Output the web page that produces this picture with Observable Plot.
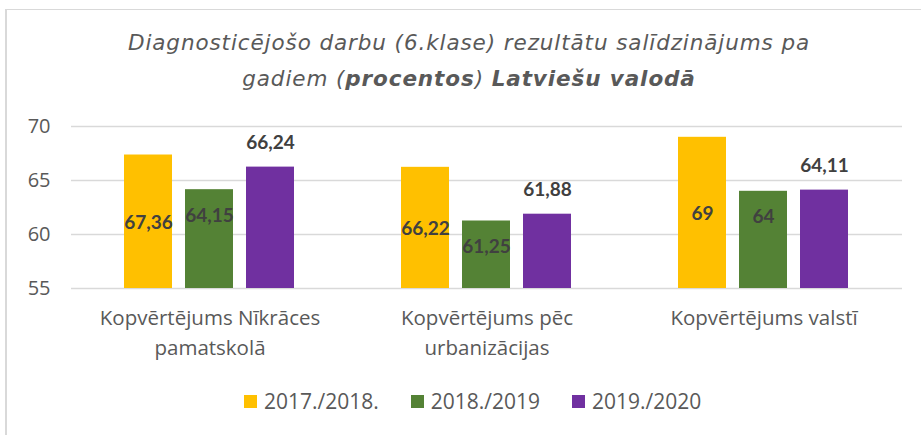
<!DOCTYPE html>
<html>
<head>
<meta charset="utf-8">
<script src="https://cdn.jsdelivr.net/npm/d3@7"></script>
<script src="https://cdn.jsdelivr.net/npm/@observablehq/plot@0.6"></script>
<style>
  html, body { margin: 0; padding: 0; background: #fff; }
  #wrap { position: relative; width: 921px; height: 435px; overflow: hidden; background: #fff; }
  #frame { position: absolute; left: 5px; top: 9px; width: 940px; height: 460px;
           border-left: 2px solid #d9d9d9; border-top: 1.5px solid #d9d9d9; box-sizing: border-box; }
  #title { position: absolute; left: 0; width: 938px; top: 25px; text-align: center;
           font-family: "DejaVu Sans", sans-serif; font-style: italic; font-size: 21.5px;
           line-height: 36px; color: #595959; letter-spacing: 0.9px; }
  #title b { font-weight: bold; }
  #chart { position: absolute; left: 0; top: 100px; }
  #legend { position: absolute; top: 387px; left: 244px; display: flex; align-items: center;
            font-family: "Open Sans", sans-serif; font-size: 21px; color: #595959; white-space: nowrap; }
  .item { display: flex; align-items: center; margin-right: 32px; }
  .sw { width: 13px; height: 13px; margin-right: 7px; }
</style>
</head>
<body>
<div id="wrap">
  <div id="frame"></div>
  <div id="title">Diagnosticējošo darbu (6.klase) rezultātu salīdzinājums pa<br>gadiem (<b>procentos</b>) <b>Latviešu valodā</b></div>
  <div id="chart"></div>
  <div id="legend"></div>
</div>
<script>
// ---- data ----
const categories = ["Kopvērtējums Nīkrāces\npamatskolā", "Kopvērtējums pēc\nurbanizācijas", "Kopvērtējums valstī"];
const years = ["2017./2018.", "2018./2019", "2019./2020"];
const values2017 = [67.36, 66.22, 69];
const values2018 = [64.15, 61.25, 64];
const values2019 = [66.24, 61.88, 64.11];
const yTicks = [55, 60, 65, 70];
const colors = ["#FFC000", "#548235", "#7030A0"];

const series = [values2017, values2018, values2019];
const rows = [];
categories.forEach((c, i) => years.forEach((y, j) => rows.push({cat: c, year: y, value: series[j][i]})));
const base = yTicks[0];
const fmt = v => String(v).replace(".", ",");

const font = "Open Sans, sans-serif";
const labelStyle = {fontFamily: "Lato, sans-serif", fontWeight: "bold", fontSize: 19, fill: "#404040"};
const chart = Plot.plot({
  width: 921,
  height: 285,
  marginLeft: 70,
  marginRight: 19,
  marginTop: 26,
  marginBottom: 97,
  style: {fontFamily: font, color: "#595959", background: "transparent"},
  fx: {domain: categories, padding: 0},
  x: {domain: years, paddingInner: 0.21, paddingOuter: 0.86},
  y: {domain: [base, yTicks[yTicks.length - 1]]},
  color: {domain: years, range: colors},
  marks: [
    Plot.gridY(yTicks, {stroke: "#d9d9d9", strokeOpacity: 1, strokeWidth: 1.5}),
    Plot.barY(rows, {fx: "cat", x: "year", y1: () => base, y2: "value", fill: "year"}),
    // yellow labels: centered in bar
    Plot.text(rows.filter(d => d.year === years[0]), {fx: "cat", x: "year", y: d => (d.value + base) / 2, dy: 1,
      text: d => fmt(d.value), ...labelStyle}),
    // green labels: inside end
    Plot.text(rows.filter(d => d.year === years[1]), {fx: "cat", x: "year", y: "value", dy: 26,
      text: d => fmt(d.value), ...labelStyle}),
    // purple labels: outside end
    Plot.text(rows.filter(d => d.year === years[2]), {fx: "cat", x: "year", y: "value", dy: -24,
      text: d => fmt(d.value), ...labelStyle}),
    Plot.axisY({ticks: yTicks, tickSize: 0, tickPadding: 21, label: null, fontSize: 20, fill: "#595959"}),
    Plot.axisX({ticks: [], label: null}),
    Plot.axisFx({anchor: "bottom", tickSize: 0, tickPadding: 15, label: null, fontSize: 20.5, lineHeight: 1.46, fill: "#595959"})
  ]
});
document.getElementById("chart").appendChild(chart);

const legend = document.getElementById("legend");
years.forEach((y, i) => {
  const it = document.createElement("div");
  it.className = "item";
  const sw = document.createElement("div");
  sw.className = "sw";
  sw.style.background = colors[i];
  const t = document.createElement("span");
  t.textContent = y;
  it.appendChild(sw); it.appendChild(t);
  legend.appendChild(it);
});
</script>
</body>
</html>
